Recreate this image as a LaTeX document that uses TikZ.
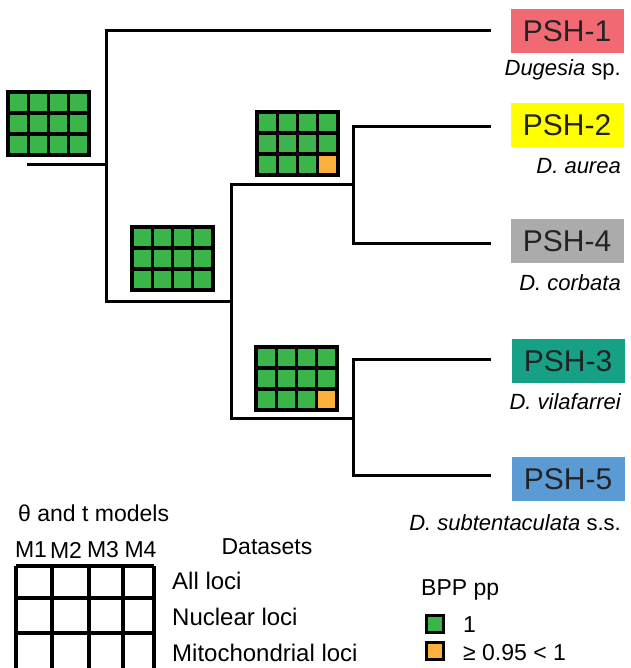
\documentclass[tikz,border=0pt]{standalone}
\usepackage{fontspec}
\setmainfont{Liberation Sans}
\definecolor{bppgreen}{RGB}{59,181,74}
\definecolor{bpporange}{RGB}{251,176,59}
\definecolor{cpshone}{RGB}{241,106,115}
\definecolor{cpshtwo}{RGB}{255,255,0}
\definecolor{cpshfour}{RGB}{171,171,171}
\definecolor{cpshthree}{RGB}{22,160,133}
\definecolor{cpshfive}{RGB}{91,155,213}
\definecolor{txtdark}{RGB}{35,35,35}
\newcommand{\bppgrid}[3]{% x, y (top-left), colour of last cell
  \fill[bppgreen] (#1,#2) rectangle ++(81,63);
  \fill[#3] (#1+60.75,#2+42) rectangle ++(20.25,21);
  \draw[gridline] (#1,#2) rectangle ++(81,63);
  \foreach \i in {1,2,3} {\draw[gridline] (#1+20.25*\i,#2) -- ++(0,63);}
  \foreach \j in {1,2} {\draw[gridline] (#1,#2+21*\j) -- ++(81,0);}
}
\tikzset{
  branch/.style={line width=3pt, line join=miter, black},
  gridline/.style={line width=3.4pt, black},
  pshbox/.style={minimum width=113pt, minimum height=44pt, inner sep=0pt, text=txtdark,
     font=\fontsize{30}{34}\selectfont},
  species/.style={anchor=east, inner sep=0pt, font=\fontsize{22}{26}\selectfont\itshape},
  legtext/.style={inner sep=0pt, font=\fontsize{23}{27}\selectfont},
  rowtext/.style={inner sep=0pt, anchor=west, font=\fontsize{24}{28}\selectfont},
  legsq/.style={draw=black, line width=2.5pt, minimum size=17pt, inner sep=0pt}
}
\begin{document}
\begin{tikzpicture}[x=1pt,y=-1pt]
\useasboundingbox (0,0) rectangle (630,668);
\clip (0,0) rectangle (630,668);
% tip labels
\node[pshbox, fill=cpshone] (p1) at (567,31) {PSH-1};
\node[pshbox, fill=cpshtwo] (p2) at (567,125) {PSH-2};
\node[pshbox, fill=cpshfour] (p4) at (567,241) {PSH-4};
\node[pshbox, fill=cpshthree] (p3) at (568,361) {PSH-3};
\node[pshbox, fill=cpshfive] (p5) at (568,479) {PSH-5};
\node[species] (s1) at (621,70) {Dugesia \upshape sp.};
\node[species] (s2) at (621,166) {D. aurea};
\node[species] (s4) at (621,283) {D. corbata};
\node[species] (s3) at (621,402) {D. vilafarrei};
\node[species] (s5) at (621,523) {D. subtentaculata \upshape s.s.};
% tree coordinates
\coordinate (root) at (27,165);
\coordinate (n1) at (106,165);
\coordinate (n2) at (231,301);
\coordinate (n3) at (353,185);
\coordinate (n4) at (353,418);
\coordinate (t1) at (491,31);
\coordinate (t2) at (491,127);
\coordinate (t4) at (491,243);
\coordinate (t3) at (491,359);
\coordinate (t5) at (491,475);
% tree
\draw[branch] (root) -- (n1);
\draw[branch] (t1) -| (n1) |- (n2);
\draw[branch] (n3) -| (n2) |- (n4);
\draw[branch] (t2) -| (n3) |- (t4);
\draw[branch] (t3) -| (n4) |- (t5);
% BPP grids
\bppgrid{8}{92}{bppgreen}
\bppgrid{132}{227}{bppgreen}
\bppgrid{257}{112}{bpporange}
\bppgrid{256}{347}{bpporange}
% legend
\node[legtext, anchor=west] (models) at (18,513) {θ and t models};
\node[legtext] (m1) at (31,550) {M1};
\node[legtext] (m2) at (66,550) {M2};
\node[legtext] (m3) at (103,550) {M3};
\node[legtext] (m4) at (140.5,550) {M4};
\node[legtext] (ds) at (267,547) {Datasets};
\draw[gridline] (16,566) -- (154,566);
\draw[gridline] (16,598) -- (154,598);
\draw[gridline] (16,633) -- (154,633);
\foreach \xx in {16,52,89,123,154} {\draw[gridline] (\xx,566) -- (\xx,672);}
\node[rowtext] (l1) at (172,581) {All loci};
\node[rowtext] (l2) at (172,617) {Nuclear loci};
\node[rowtext] (l3) at (172,653) {Mitochondrial loci};
\node[legtext, anchor=west] (bpp) at (421,590) {BPP pp};
\node[legsq, fill=bppgreen] (sqg) at (435,624) {};
\node[legsq, fill=bpporange] (sqo) at (435,651) {};
\node[legtext, anchor=west] (v1) at (463,625) {1};
\node[legtext, anchor=west] (v2) at (463,653) {≥ 0.95 < 1};
\end{tikzpicture}
\end{document}
